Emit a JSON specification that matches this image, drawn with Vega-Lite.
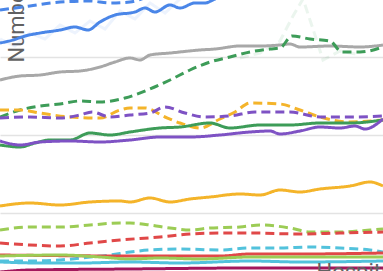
{
  "$schema": "https://vega.github.io/schema/vega-lite/v6.json",
  "width": 383,
  "height": 291,
  "autosize": {"type": "none"},
  "padding": 0,
  "background": "white",
  "config": {"view": {"stroke": null}},
  "datasets": {
    "faint": [
      {"s":"f1","t":240,"v":233},{"s":"f1","t":260,"v":238},{"s":"f1","t":280,"v":250},{"s":"f1","t":293,"v":275},{"s":"f1","t":303,"v":292},{"s":"f1","t":313,"v":262},{"s":"f1","t":323,"v":231},{"s":"f1","t":340,"v":240},{"s":"f1","t":360,"v":236},
      {"s":"f2","t":0,"v":252},{"s":"f2","t":15,"v":245},{"s":"f2","t":30,"v":258},{"s":"f2","t":45,"v":252},{"s":"f2","t":60,"v":266},{"s":"f2","t":75,"v":258},{"s":"f2","t":90,"v":270},{"s":"f2","t":105,"v":262},{"s":"f2","t":120,"v":280},{"s":"f2","t":135,"v":272},{"s":"f2","t":150,"v":288},{"s":"f2","t":165,"v":278},{"s":"f2","t":180,"v":292}
    ],
    "rows": [
      {"s":"s1","t":0,"v":281},{"s":"s1","t":30,"v":285},{"s":"s1","t":60,"v":289},{"s":"s1","t":90,"v":290},{"s":"s1","t":110,"v":288},{"s":"s1","t":130,"v":289},{"s":"s1","t":150,"v":295},{"s":"s1","t":170,"v":301},
      {"s":"s2","t":0,"v":248},{"s":"s2","t":13,"v":251},{"s":"s2","t":25,"v":255},{"s":"s2","t":40,"v":258},{"s":"s2","t":60,"v":261},{"s":"s2","t":75,"v":264},{"s":"s2","t":88,"v":261},{"s":"s2","t":100,"v":269},{"s":"s2","t":115,"v":276},{"s":"s2","t":135,"v":279},{"s":"s2","t":145,"v":283},{"s":"s2","t":155,"v":279},{"s":"s2","t":170,"v":286},{"s":"s2","t":180,"v":283},{"s":"s2","t":195,"v":288},{"s":"s2","t":205,"v":288},{"s":"s2","t":215,"v":292},{"s":"s2","t":235,"v":299},
      {"s":"s3","t":0,"v":211},{"s":"s3","t":20,"v":215},{"s":"s3","t":40,"v":216},{"s":"s3","t":60,"v":219},{"s":"s3","t":80,"v":220},{"s":"s3","t":100,"v":224},{"s":"s3","t":115,"v":229},{"s":"s3","t":130,"v":233},{"s":"s3","t":140,"v":231},{"s":"s3","t":150,"v":236},{"s":"s3","t":170,"v":238},{"s":"s3","t":200,"v":241},{"s":"s3","t":215,"v":242},{"s":"s3","t":240,"v":245},{"s":"s3","t":260,"v":245},{"s":"s3","t":280,"v":246},{"s":"s3","t":290,"v":247},{"s":"s3","t":300,"v":244},{"s":"s3","t":330,"v":245},{"s":"s3","t":360,"v":244},{"s":"s3","t":383,"v":246},
      {"s":"s4","t":0,"v":174},{"s":"s4","t":20,"v":181},{"s":"s4","t":40,"v":185},{"s":"s4","t":60,"v":187},{"s":"s4","t":80,"v":190},{"s":"s4","t":100,"v":189},{"s":"s4","t":125,"v":193},{"s":"s4","t":150,"v":202},{"s":"s4","t":170,"v":211},{"s":"s4","t":190,"v":221},{"s":"s4","t":210,"v":229},{"s":"s4","t":230,"v":234},{"s":"s4","t":250,"v":239},{"s":"s4","t":270,"v":242},{"s":"s4","t":280,"v":243},{"s":"s4","t":292,"v":255},{"s":"s4","t":310,"v":252},{"s":"s4","t":330,"v":250},{"s":"s4","t":342,"v":239},{"s":"s4","t":360,"v":239},{"s":"s4","t":383,"v":244},
      {"s":"s5","t":0,"v":181},{"s":"s5","t":20,"v":181},{"s":"s5","t":40,"v":178},{"s":"s5","t":70,"v":174},{"s":"s5","t":100,"v":173},{"s":"s5","t":120,"v":181},{"s":"s5","t":130,"v":183},{"s":"s5","t":145,"v":183},{"s":"s5","t":165,"v":174},{"s":"s5","t":180,"v":168},{"s":"s5","t":200,"v":163},{"s":"s5","t":220,"v":172},{"s":"s5","t":235,"v":179},{"s":"s5","t":250,"v":188},{"s":"s5","t":280,"v":187},{"s":"s5","t":300,"v":181},{"s":"s5","t":320,"v":174},{"s":"s5","t":350,"v":169},{"s":"s5","t":383,"v":171},
      {"s":"s6","t":0,"v":173},{"s":"s6","t":30,"v":174},{"s":"s6","t":60,"v":173},{"s":"s6","t":80,"v":176},{"s":"s6","t":92,"v":179},{"s":"s6","t":110,"v":174},{"s":"s6","t":130,"v":176},{"s":"s6","t":150,"v":178},{"s":"s6","t":165,"v":184},{"s":"s6","t":185,"v":178},{"s":"s6","t":205,"v":174},{"s":"s6","t":230,"v":175},{"s":"s6","t":255,"v":179},{"s":"s6","t":290,"v":179},{"s":"s6","t":320,"v":174},{"s":"s6","t":350,"v":174},{"s":"s6","t":383,"v":175},
      {"s":"s7","t":0,"v":146},{"s":"s7","t":20,"v":144},{"s":"s7","t":35,"v":148},{"s":"s7","t":50,"v":151},{"s":"s7","t":70,"v":151},{"s":"s7","t":90,"v":158},{"s":"s7","t":110,"v":156},{"s":"s7","t":130,"v":159},{"s":"s7","t":160,"v":163},{"s":"s7","t":180,"v":164},{"s":"s7","t":210,"v":168},{"s":"s7","t":230,"v":163},{"s":"s7","t":260,"v":166},{"s":"s7","t":290,"v":166},{"s":"s7","t":320,"v":168},{"s":"s7","t":350,"v":168},{"s":"s7","t":383,"v":171},
      {"s":"s8","t":0,"v":150},{"s":"s8","t":20,"v":146},{"s":"s8","t":40,"v":149},{"s":"s8","t":70,"v":150},{"s":"s8","t":100,"v":149},{"s":"s8","t":130,"v":151},{"s":"s8","t":160,"v":154},{"s":"s8","t":190,"v":154},{"s":"s8","t":220,"v":156},{"s":"s8","t":250,"v":159},{"s":"s8","t":270,"v":160},{"s":"s8","t":280,"v":157},{"s":"s8","t":300,"v":160},{"s":"s8","t":320,"v":164},{"s":"s8","t":340,"v":163},{"s":"s8","t":355,"v":165},{"s":"s8","t":365,"v":162},{"s":"s8","t":383,"v":172},
      {"s":"s9","t":0,"v":85},{"s":"s9","t":30,"v":88},{"s":"s9","t":60,"v":86},{"s":"s9","t":90,"v":89},{"s":"s9","t":120,"v":90},{"s":"s9","t":130,"v":89},{"s":"s9","t":150,"v":93},{"s":"s9","t":170,"v":89},{"s":"s9","t":190,"v":92},{"s":"s9","t":210,"v":94},{"s":"s9","t":240,"v":97},{"s":"s9","t":260,"v":96},{"s":"s9","t":280,"v":101},{"s":"s9","t":300,"v":99},{"s":"s9","t":320,"v":102},{"s":"s9","t":350,"v":105},{"s":"s9","t":370,"v":109},{"s":"s9","t":383,"v":105},
      {"s":"s10","t":0,"v":61},{"s":"s10","t":30,"v":64},{"s":"s10","t":60,"v":64},{"s":"s10","t":90,"v":66},{"s":"s10","t":120,"v":68},{"s":"s10","t":130,"v":68},{"s":"s10","t":150,"v":66},{"s":"s10","t":170,"v":63},{"s":"s10","t":190,"v":61},{"s":"s10","t":210,"v":63},{"s":"s10","t":240,"v":64},{"s":"s10","t":260,"v":66},{"s":"s10","t":290,"v":63},{"s":"s10","t":310,"v":59},{"s":"s10","t":340,"v":59},{"s":"s10","t":370,"v":61},{"s":"s10","t":383,"v":62},
      {"s":"s11","t":0,"v":48},{"s":"s11","t":30,"v":46},{"s":"s11","t":60,"v":45},{"s":"s11","t":90,"v":48},{"s":"s11","t":120,"v":51},{"s":"s11","t":160,"v":54},{"s":"s11","t":190,"v":57},{"s":"s11","t":220,"v":58},{"s":"s11","t":250,"v":58},{"s":"s11","t":300,"v":57},{"s":"s11","t":340,"v":58},{"s":"s11","t":383,"v":59},
      {"s":"s12","t":0,"v":30},{"s":"s12","t":30,"v":30},{"s":"s12","t":60,"v":31},{"s":"s12","t":90,"v":34},{"s":"s12","t":110,"v":36},{"s":"s12","t":130,"v":39},{"s":"s12","t":150,"v":41},{"s":"s12","t":180,"v":42},{"s":"s12","t":220,"v":41},{"s":"s12","t":250,"v":43},{"s":"s12","t":280,"v":43},{"s":"s12","t":310,"v":44},{"s":"s12","t":340,"v":43},{"s":"s12","t":370,"v":41},{"s":"s12","t":383,"v":39},
      {"s":"s13","t":0,"v":36},{"s":"s13","t":130,"v":35},{"s":"s13","t":220,"v":35},{"s":"s13","t":250,"v":37},{"s":"s13","t":300,"v":37},{"s":"s13","t":383,"v":38},
      {"s":"s14","t":0,"v":35},{"s":"s14","t":60,"v":36},{"s":"s14","t":100,"v":34},{"s":"s14","t":130,"v":32},{"s":"s14","t":160,"v":33},{"s":"s14","t":200,"v":32},{"s":"s14","t":250,"v":34},{"s":"s14","t":300,"v":34},{"s":"s14","t":383,"v":34},
      {"s":"s15","t":0,"v":29},{"s":"s15","t":40,"v":28},{"s":"s15","t":80,"v":28},{"s":"s15","t":130,"v":29},{"s":"s15","t":180,"v":28},{"s":"s15","t":250,"v":30},{"s":"s15","t":300,"v":29},{"s":"s15","t":383,"v":30},
      {"s":"s16","t":0,"v":19},{"s":"s16","t":30,"v":21},{"s":"s16","t":130,"v":22},{"s":"s16","t":250,"v":23},{"s":"s16","t":383,"v":23}
    ]
  },
  "encoding": {
    "x": {
      "field": "t", "type": "quantitative",
      "scale": {"domain": [0, 383], "nice": false, "zero": false},
      "axis": {"title": "Hospitalizations", "grid": false, "labels": false, "ticks": false, "domain": false,
        "titleX": 316, "titleY": -13, "titleAlign": "left", "titleBaseline": "alphabetic",
        "titleFontSize": 22, "titleFont": "Roboto", "titleFontWeight": "normal", "titleColor": "#616161", "zindex": 1}
    },
    "y": {
      "field": "v", "type": "quantitative",
      "scale": {"domain": [0, 291], "nice": false},
      "axis": {"title": "Number of patients", "values": [78, 156, 234], "labels": false, "ticks": false, "domain": false,
        "gridColor": "#e3e3e3", "gridWidth": 1.5,
        "titleX": 23, "titleY": 62, "titleAngle": -90, "titleAlign": "left", "titleBaseline": "alphabetic",
        "titleFontSize": 22, "titleFont": "Roboto", "titleFontWeight": "normal", "titleColor": "#616161"}
    },
    "color": {
      "field": "s", "type": "nominal", "legend": null,
      "scale": {
        "domain": ["f1","f2","s1","s2","s3","s4","s5","s6","s7","s8","s9","s10","s11","s12","s13","s14","s15","s16"],
        "range": ["#3d9c58","#4a86e8","#4a86e8","#4a86e8","#a8a8a8","#3d9c58","#f4b42a","#7e52c4","#3d9c58","#7e52c4","#f4b42a","#9ccc55","#e04848","#52c2dc","#e04848","#9ccc55","#52c2dc","#a3175c"]
      }
    },
    "strokeDash": {
      "field": "s", "type": "nominal", "legend": null,
      "scale": {
        "domain": ["f1","f2","s1","s2","s3","s4","s5","s6","s7","s8","s9","s10","s11","s12","s13","s14","s15","s16"],
        "range": [[9,5],[1,0],[9,5],[1,0],[1,0],[9,5],[9,5],[9,5],[1,0],[1,0],[1,0],[9,5],[9,5],[9,5],[1,0],[1,0],[1,0],[1,0]]
      }
    }
  },
  "layer": [
    {
      "data": {"name": "faint"},
      "mark": {"type": "line", "strokeWidth": 3, "opacity": 0.1, "interpolate": "linear", "clip": true}
    },
    {
      "data": {"name": "rows"},
      "mark": {"type": "line", "strokeWidth": 3, "interpolate": "monotone", "clip": true}
    }
  ]
}
